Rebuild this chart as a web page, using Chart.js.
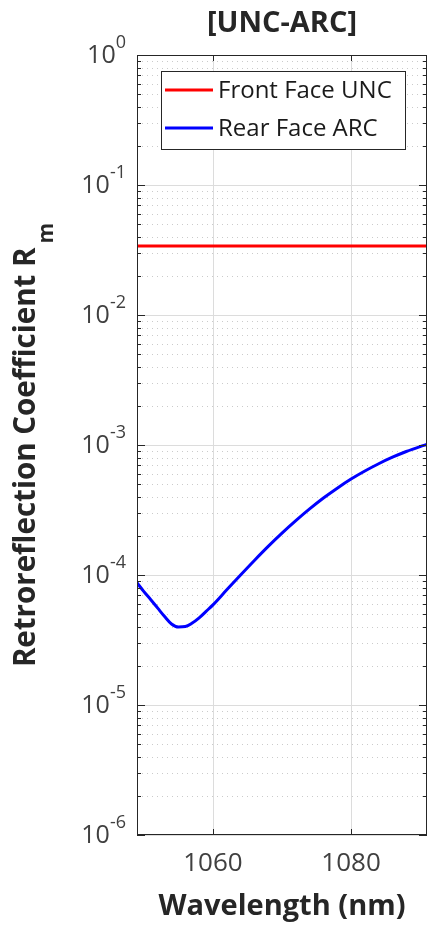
<!DOCTYPE html>
<html>
<head>
<meta charset="utf-8">
<script src="https://cdn.jsdelivr.net/npm/chart.js@4.4.1/dist/chart.umd.min.js"></script>
<style>
  body { margin: 0; background: #fff; }
</style>
</head>
<body>
<canvas id="rChart" width="431" height="927"></canvas>
<script>
// data
const wavelength = [1049, 1050, 1051, 1052, 1053, 1054, 1055, 1056, 1057, 1058, 1059, 1060,
	1062, 1064, 1066, 1068, 1070, 1072, 1074, 1076, 1078, 1080, 1082, 1084, 1086, 1088, 1090, 1091];
const rearARC = [8.71e-5, 7.45e-5, 6.46e-5, 5.56e-5, 4.79e-5, 4.20e-5, 3.98e-5, 4.01e-5, 4.27e-5, 4.68e-5, 5.25e-5, 5.89e-5,
	7.69e-5, 1.0e-4, 1.294e-4, 1.66e-4, 2.099e-4, 2.618e-4, 3.221e-4, 3.908e-4, 4.656e-4, 5.47e-4, 6.31e-4, 7.178e-4, 8.054e-4, 8.913e-4, 9.727e-4, 1.012e-3];
const frontWavelength = [1049, 1091];
const frontUNC = [0.034, 0.034];

const seriesLabels = ["Front Face UNC", "Rear Face ARC"];
const seriesColors = ["#ff0000", "#0000ff"];
const xTicks = [1060, 1080];
const yExponents = [0, -1, -2, -3, -4, -5, -6];
const chartTitle = "[UNC-ARC]";
const xTitle = "Wavelength (nm)";
const yTitle = "Retroreflection Coefficient R";
const yTitleSub = "m";

const FONT = "'Open Sans', 'DejaVu Sans', sans-serif";

const matlabLook = {
	id: "matlabLook",
	beforeDatasetsDraw(chart) {
		const { ctx, chartArea: a, scales } = chart;
		const xs = scales.x, ys = scales.y;
		ctx.save();
		ctx.lineWidth = 1;
		// minor grid (dotted)
		ctx.strokeStyle = "#cbcbcb";
		ctx.setLineDash([1, 4]);
		for (let e = -6; e < 0; e++) {
			for (let k = 2; k <= 9; k++) {
				const y = Math.round(ys.getPixelForValue(k * Math.pow(10, e))) + 0.5;
				ctx.beginPath();
				ctx.moveTo(a.left, y);
				ctx.lineTo(a.right, y);
				ctx.stroke();
			}
		}
		// major grid
		ctx.setLineDash([]);
		ctx.strokeStyle = "#dcdcdc";
		yExponents.forEach((e) => {
			const y = Math.round(ys.getPixelForValue(Math.pow(10, e))) + 0.5;
			ctx.beginPath();
			ctx.moveTo(a.left, y);
			ctx.lineTo(a.right, y);
			ctx.stroke();
		});
		xTicks.forEach((v) => {
			const x = Math.round(xs.getPixelForValue(v)) + 0.5;
			ctx.beginPath();
			ctx.moveTo(x, a.top);
			ctx.lineTo(x, a.bottom);
			ctx.stroke();
		});
		ctx.restore();
	},
	afterDatasetsDraw(chart) {
		const { ctx, chartArea: a, scales } = chart;
		const xs = scales.x, ys = scales.y;
		ctx.save();

		// box
		ctx.strokeStyle = "#262626";
		ctx.lineWidth = 1;
		ctx.strokeRect(a.left + 0.5, a.top + 0.5, a.right - a.left - 1, a.bottom - a.top - 1);

		// tick marks, inside on both sides
		ctx.beginPath();
		for (let e = -6; e < 0; e++) {
			for (let k = 2; k <= 9; k++) {
				const y = Math.round(ys.getPixelForValue(k * Math.pow(10, e))) + 0.5;
				ctx.moveTo(a.left, y); ctx.lineTo(a.left + 4, y);
				ctx.moveTo(a.right, y); ctx.lineTo(a.right - 4, y);
			}
		}
		yExponents.forEach((e) => {
			const y = Math.round(ys.getPixelForValue(Math.pow(10, e))) + 0.5;
			ctx.moveTo(a.left, y); ctx.lineTo(a.left + 8, y);
			ctx.moveTo(a.right, y); ctx.lineTo(a.right - 8, y);
		});
		xTicks.forEach((v) => {
			const x = Math.round(xs.getPixelForValue(v)) + 0.5;
			ctx.moveTo(x, a.bottom); ctx.lineTo(x, a.bottom - 6);
			ctx.moveTo(x, a.top); ctx.lineTo(x, a.top + 6);
		});
		ctx.stroke();

		// y tick labels 10^e
		ctx.fillStyle = "#404040";
		yExponents.forEach((e) => {
			const y = ys.getPixelForValue(Math.pow(10, e));
			const sup = e === 0 ? "0" : "-" + Math.abs(e);
			ctx.font = "18px " + FONT;
			const supW = ctx.measureText(sup).width;
			const right = a.left - 11;
			ctx.textBaseline = "middle";
			ctx.textAlign = "left";
			ctx.fillText(sup, right - supW, y - 12);
			ctx.font = "25px " + FONT;
			ctx.textAlign = "right";
			ctx.fillText("10", right - supW, y + 1);
		});

		// x tick labels
		ctx.font = "26px " + FONT;
		ctx.textAlign = "center";
		ctx.textBaseline = "middle";
		xTicks.forEach((v) => {
			ctx.fillText(String(v), xs.getPixelForValue(v), 864);
		});

		// titles
		const cx = (a.left + a.right) / 2;
		ctx.fillStyle = "#262626";
		ctx.textBaseline = "alphabetic";
		ctx.font = "bold 29px " + FONT;
		ctx.fillText(chartTitle, cx, 32);
		ctx.fillText(xTitle, cx, 915);

		// y title with subscript
		const cy = (a.top + a.bottom) / 2;
		ctx.font = "bold 29.5px " + FONT;
		const mainW = ctx.measureText(yTitle).width;
		ctx.font = "bold 21px " + FONT;
		const subW = ctx.measureText(yTitleSub).width;
		const total = mainW + 4 + subW;
		ctx.translate(35, cy);
		ctx.rotate(-Math.PI / 2);
		ctx.textAlign = "left";
		ctx.font = "bold 29.5px " + FONT;
		ctx.fillText(yTitle, -total / 2, 0);
		ctx.font = "bold 21px " + FONT;
		ctx.fillText(yTitleSub, -total / 2 + mainW + 4, 18);
		ctx.setTransform(1, 0, 0, 1, 0, 0);

		// legend
		const lx = 161, ly = 71, lw = 244, lh = 78;
		ctx.fillStyle = "#ffffff";
		ctx.fillRect(lx, ly, lw, lh);
		ctx.strokeStyle = "#262626";
		ctx.lineWidth = 1;
		ctx.strokeRect(lx + 0.5, ly + 0.5, lw, lh);
		const rows = [90, 128];
		chart.data.datasets.forEach((ds, i) => {
			ctx.strokeStyle = ds.borderColor;
			ctx.lineWidth = 3;
			ctx.beginPath();
			ctx.moveTo(165, rows[i]);
			ctx.lineTo(213, rows[i]);
			ctx.stroke();
			ctx.fillStyle = "#1a1a1a";
			ctx.font = "24px " + FONT;
			ctx.textAlign = "left";
			ctx.textBaseline = "alphabetic";
			ctx.fillText(ds.label, 218, rows[i] + 8);
		});
		ctx.restore();
	},
};

const ctx = document.getElementById("rChart");
const myChart = new Chart(ctx, {
	type: "line",
	data: {
		datasets: [
			{
				label: seriesLabels[0],
				data: frontWavelength.map((w, i) => ({ x: w, y: frontUNC[i] })),
				borderColor: seriesColors[0],
				borderWidth: 3,
				pointRadius: 0,
			},
			{
				label: seriesLabels[1],
				data: wavelength.map((w, i) => ({ x: w, y: rearARC[i] })),
				borderColor: seriesColors[1],
				borderWidth: 3,
				pointRadius: 0,
				cubicInterpolationMode: "monotone",
			},
		],
	},
	options: {
		responsive: false,
		animation: false,
		layout: {
			padding: { left: 137, right: 4, top: 55, bottom: 92 },
		},
		plugins: {
			legend: { display: false },
			tooltip: { enabled: false },
		},
		scales: {
			x: { type: "linear", min: 1049, max: 1091, display: false },
			y: { type: "logarithmic", min: 1e-6, max: 1, display: false },
		},
	},
	plugins: [matlabLook],
});
</script>
</body>
</html>
